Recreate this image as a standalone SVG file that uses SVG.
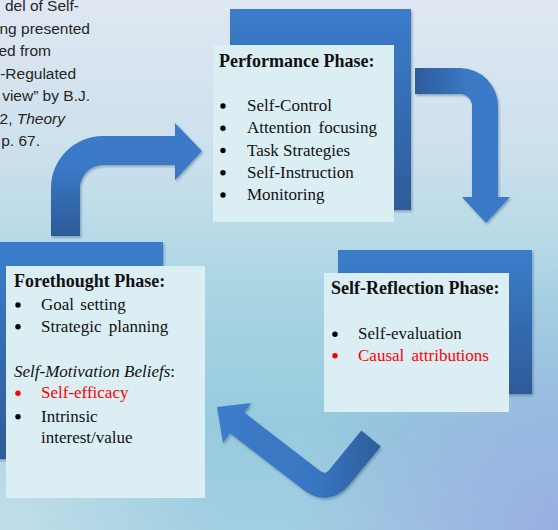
<svg xmlns="http://www.w3.org/2000/svg" width="558" height="530" viewBox="0 0 558 530">
  <defs>
    <linearGradient id="bg" x1="0" y1="0" x2="0" y2="1">
      <stop offset="0" stop-color="#dfe7f2"/>
      <stop offset="0.3" stop-color="#cbe0ec"/>
      <stop offset="0.55" stop-color="#aad5e3"/>
      <stop offset="0.8" stop-color="#96cbdd"/>
      <stop offset="1" stop-color="#a2cfe1"/>
    </linearGradient>
    <radialGradient id="bgCorner" cx="558" cy="530" r="270" gradientUnits="userSpaceOnUse">
      <stop offset="0" stop-color="#98aee2" stop-opacity="1"/>
      <stop offset="1" stop-color="#98aee2" stop-opacity="0"/>
    </radialGradient>
    <radialGradient id="bgLeft" cx="0" cy="530" r="220" gradientUnits="userSpaceOnUse">
      <stop offset="0" stop-color="#c4e0ea" stop-opacity="0.9"/>
      <stop offset="1" stop-color="#c4e0ea" stop-opacity="0"/>
    </radialGradient>
    <linearGradient id="slab" x1="0" y1="0" x2="0" y2="1">
      <stop offset="0" stop-color="#3b7dcb"/>
      <stop offset="1" stop-color="#2d5c98"/>
    </linearGradient>
    <linearGradient id="arrowUp" x1="0" y1="1" x2="0" y2="0">
      <stop offset="0" stop-color="#2c5a96"/>
      <stop offset="0.6" stop-color="#3a79c6"/>
      <stop offset="1" stop-color="#3b7bc9"/>
    </linearGradient>
    <linearGradient id="arrowRight" x1="0" y1="0" x2="1" y2="0">
      <stop offset="0" stop-color="#2d5c99"/>
      <stop offset="0.55" stop-color="#3a79c5"/>
      <stop offset="1" stop-color="#3b7bc8"/>
    </linearGradient>
    <linearGradient id="arrowLow" gradientUnits="userSpaceOnUse" x1="217" y1="0" x2="380" y2="0">
      <stop offset="0" stop-color="#3c7bc8"/>
      <stop offset="0.6" stop-color="#3976c2"/>
      <stop offset="1" stop-color="#2d5d9a"/>
    </linearGradient>
    <filter id="shadow" x="-10%" y="-10%" width="130%" height="130%">
      <feDropShadow dx="1.2" dy="1.8" stdDeviation="1.3" flood-color="#1d3550" flood-opacity="0.35"/>
    </filter>
    <style>
      .slab { fill: url(#slab); filter: url(#shadow); }
      .card { fill: #dbeef4; }
      .title { font-family: "Liberation Serif", "Times New Roman", serif; font-size: 18px; font-weight: bold; fill: #111; }
      .item { font-family: "Liberation Serif", "Times New Roman", serif; font-size: 17px; fill: #111; }
      .red { fill: #ff0000; }
      .dot { fill: #000; }
      .dot.red { fill: #ff0000; }
      .cite { font-family: "Liberation Sans", Arial, sans-serif; font-size: 15.5px; fill: #262626; text-anchor: end; }
    </style>
  </defs>

  <!-- backdrop -->
  <rect x="0" y="0" width="558" height="530" fill="url(#bg)"/>
  <rect x="0" y="0" width="558" height="530" fill="url(#bgCorner)"/>
  <rect x="0" y="0" width="558" height="530" fill="url(#bgLeft)"/>

  <!-- citation block, clipped at the left edge -->
  <g id="citation" class="cite">
    <text x="79" y="11">del of Self-</text>
    <text x="90" y="33.5">ng presented</text>
    <text x="51" y="56">ed from</text>
    <text x="76" y="78.5">-Regulated</text>
    <text x="90" y="101">view” by B.J.</text>
    <text x="65" y="123.5">2, <tspan font-style="italic">Theory</tspan></text>
    <text x="40" y="146">p. 67.</text>
  </g>

  <!-- connectors -->
  <g id="connectors" filter="url(#shadow)">
    <!-- forethought -> performance -->
    <path id="arrow-fore-perf" fill="url(#arrowUp)"
          d="M51,236 L51,188 A52,52 0 0 1 103,136 L175,136 L175,123 L202,151 L175,180 L175,165 L103,165 A23,23 0 0 0 80,188 L80,236 Z"/>
    <!-- performance -> self-reflection -->
    <path id="arrow-perf-refl" fill="url(#arrowRight)"
          d="M415,68 L460,68 A38,38 0 0 1 498,106 L498,197 L510,197 L486,223 L462,197 L472,197 L472,106 A12,12 0 0 0 460,94 L415,94 Z"/>
    <!-- self-reflection -> forethought -->
    <g id="arrow-refl-fore">
      <path fill="none" stroke="url(#arrowLow)" stroke-width="25" stroke-linecap="butt"
            d="M371,438.5 L339.8,476.6 Q327,492 311.2,479.8 L236,422"/>
      <polygon fill="#3c7bc8" points="217,407 251,403 223,443"/>
    </g>
  </g>

  <!-- performance phase -->
  <g id="performance">
    <rect class="slab" x="230" y="9" width="181" height="201"/>
    <rect class="card" x="213" y="45" width="181" height="177"/>
    <text class="title" x="219" y="66.7">Performance Phase:</text>
    <circle class="dot" cx="223" cy="106" r="2.7"/>
    <circle class="dot" cx="223" cy="128.3" r="2.7"/>
    <circle class="dot" cx="223" cy="150.5" r="2.7"/>
    <circle class="dot" cx="223" cy="172.7" r="2.7"/>
    <circle class="dot" cx="223" cy="195" r="2.7"/>
    <text class="item" x="247" y="111">Self-Control</text>
    <text class="item" x="247" y="133.3" word-spacing="3">Attention focusing</text>
    <text class="item" x="247" y="155.5">Task Strategies</text>
    <text class="item" x="247" y="177.7">Self-Instruction</text>
    <text class="item" x="247" y="200">Monitoring</text>
  </g>

  <!-- self-reflection phase -->
  <g id="self-reflection">
    <rect class="slab" x="338" y="250" width="194" height="144"/>
    <rect class="card" x="324" y="273" width="185" height="139"/>
    <text class="title" x="331" y="294">Self-Reflection Phase:</text>
    <circle class="dot" cx="335" cy="334.3" r="2.7"/>
    <circle class="dot red" cx="335" cy="355.7" r="2.7"/>
    <text class="item" x="358" y="339.3">Self-evaluation</text>
    <text class="item red" x="358" y="360.7" word-spacing="3">Causal attributions</text>
  </g>

  <!-- forethought phase -->
  <g id="forethought">
    <rect class="slab" x="-18" y="242" width="181" height="217"/>
    <rect class="card" x="6" y="266" width="199" height="232"/>
    <text class="title" x="14" y="287.3">Forethought Phase:</text>
    <circle class="dot" cx="18" cy="305" r="2.7"/>
    <circle class="dot" cx="18" cy="326.7" r="2.7"/>
    <circle class="dot red" cx="18" cy="393.3" r="2.7"/>
    <circle class="dot" cx="18" cy="416.7" r="2.7"/>
    <text class="item" x="41" y="310" word-spacing="2">Goal setting</text>
    <text class="item" x="41" y="331.7" word-spacing="3">Strategic planning</text>
    <text class="item" x="14" y="376.7" font-size="17.5"><tspan font-style="italic">Self-Motivation Beliefs</tspan>:</text>
    <text class="item red" x="41" y="398.3">Self-efficacy</text>
    <text class="item" x="41" y="421.7">Intrinsic</text>
    <text class="item" x="41" y="443.3">interest/value</text>
  </g>
</svg>
